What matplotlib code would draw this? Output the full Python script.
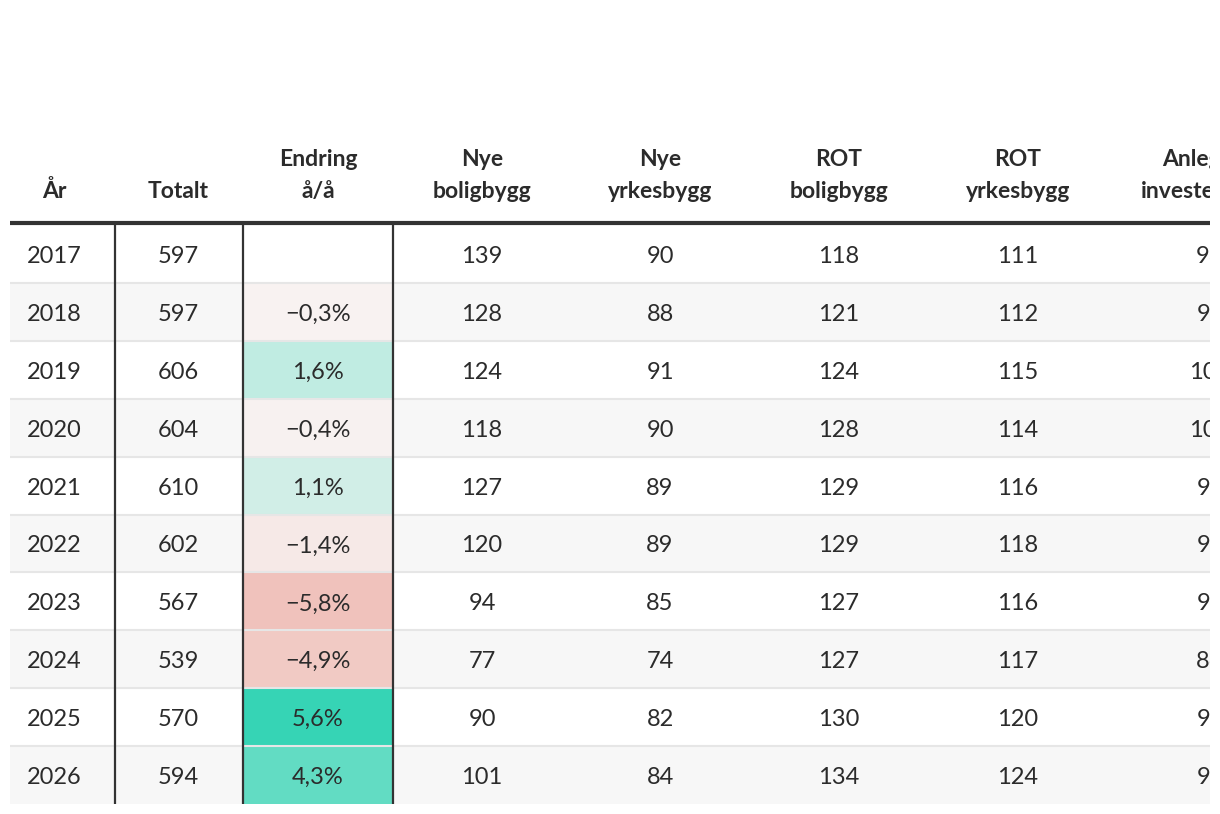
import matplotlib
matplotlib.use("Agg")
import matplotlib.pyplot as plt
from matplotlib.colors import LinearSegmentedColormap, TwoSlopeNorm
from matplotlib.patches import Rectangle

# ---- data ----
years = [2017, 2018, 2019, 2020, 2021, 2022, 2023, 2024, 2025, 2026]
totalt = [597, 597, 606, 604, 610, 602, 567, 539, 570, 594]
endring = [None, -0.3, 1.6, -0.4, 1.1, -1.4, -5.8, -4.9, 5.6, 4.3]
nye_bolig = [139, 128, 124, 118, 127, 120, 94, 77, 90, 101]
nye_yrkes = [90, 88, 91, 90, 89, 89, 85, 74, 82, 84]
rot_bolig = [118, 121, 124, 128, 129, 129, 127, 127, 130, 134]
rot_yrkes = [111, 112, 115, 114, 116, 118, 116, 117, 120, 124]
anlegg = [93, 95, 104, 106, 98, 97, 95, 86, 92, 96]
headers = ["År", "Totalt", "Endring\nå/å", "Nye\nboligbygg", "Nye\nyrkesbygg",
           "ROT\nboligbygg", "ROT\nyrkesbygg", "Anlegg\ninvestering"]

# ---- layout / style ----
FAM = ["Lato", "DejaVu Sans"]
TXT = "#2b2b2b"
W, H = 1220, 814
left, right, top, bottom = 10, 1210, 0, 804
col_centers = [54, 178, 318, 482, 660, 839, 1018, 1197]
col_text_x = [54, 178, 318, 482, 660, 839, 1018, 1210]
vlines = [115, 243, 393]
head_line_y = 223
row_top0 = 225
row_h = (bottom - row_top0) / len(years)

fig = plt.figure(figsize=(W / 100, H / 100), dpi=100)
ax = fig.add_axes([left / W, (H - bottom) / H, (right - left) / W, (bottom - top) / H])
ax.set_xlim(left, right)
ax.set_ylim(bottom, top)
ax.axis("off")

cmap = LinearSegmentedColormap.from_list(
    "div", ["#f0c0ba", "#f8f5f4", "#36d4b5"])
norm = TwoSlopeNorm(vmin=-6.0, vcenter=0.0, vmax=5.6)

# row backgrounds
for i in range(len(years)):
    y0 = row_top0 + i * row_h
    bg = "#f7f7f7" if i % 2 == 1 else "white"
    ax.add_patch(Rectangle((left, y0), right - left, row_h, facecolor=bg,
                           edgecolor="none", zorder=0))
    # endring cell
    if endring[i] is not None:
        ax.add_patch(Rectangle((vlines[1], y0), vlines[2] - vlines[1], row_h,
                               facecolor=cmap(norm(endring[i])), edgecolor="none",
                               zorder=1))
    if i > 0:
        ax.plot([left, right], [y0, y0], color="#e6e6e6", lw=1.5, zorder=2,
                solid_capstyle="butt")

# vertical lines
for x in vlines:
    ax.plot([x, x], [head_line_y, bottom], color="#333333", lw=1.6, zorder=4,
            solid_capstyle="butt")

# header line
ax.plot([left, right], [head_line_y, head_line_y], color="#333333", lw=3.0,
        zorder=5, solid_capstyle="butt")

# headers
for j, h in enumerate(headers):
    lines = h.split("\n")
    bases = [198] if len(lines) == 1 else [166, 198]
    for ln, b in zip(lines, bases):
        ax.text(col_centers[j], b, ln, ha="center", va="baseline", fontsize=16.5,
                fontweight="bold", color=TXT, family=FAM, clip_on=True)


def fmt_pct(v):
    if v is None:
        return ""
    return f"{v:.1f}%".replace(".", ",").replace("-", "\u2212")


columns = [
    [str(y) for y in years],
    [str(v) for v in totalt],
    [fmt_pct(v) for v in endring],
    [str(v) for v in nye_bolig],
    [str(v) for v in nye_yrkes],
    [str(v) for v in rot_bolig],
    [str(v) for v in rot_yrkes],
    [str(v) for v in anlegg],
]

for j, col in enumerate(columns):
    for i, s in enumerate(col):
        yc = row_top0 + (i + 0.5) * row_h
        ax.text(col_text_x[j], yc + 9, s, ha="center", va="baseline",
                fontsize=17, color=TXT, family=FAM, clip_on=True, zorder=6)

fig.savefig("out.png", dpi=100, facecolor="white")
